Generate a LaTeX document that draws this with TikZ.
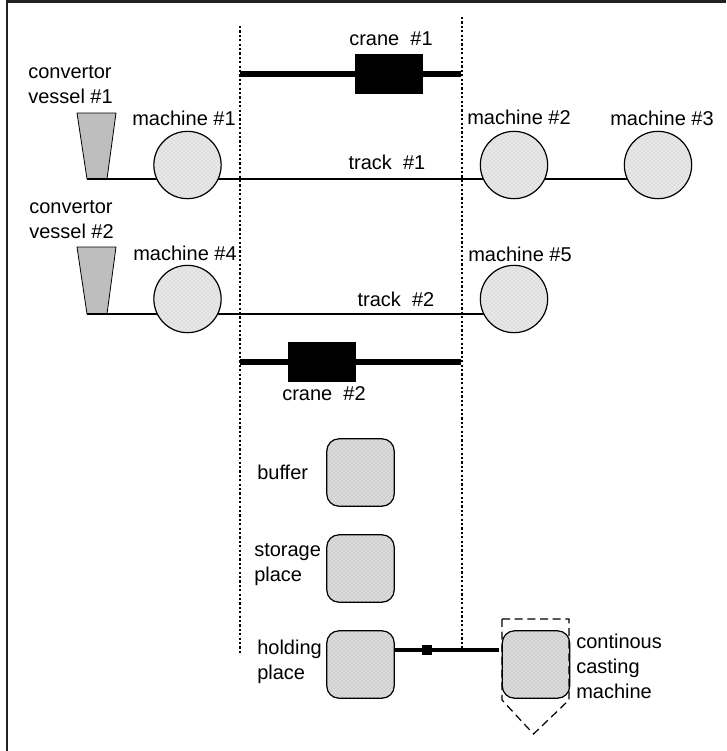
\documentclass[tikz,border=0pt]{standalone}
\usepackage{fontspec}
\setmainfont{Liberation Sans}
\usetikzlibrary{patterns}
\definecolor{framegray}{RGB}{34,34,34}
\definecolor{vesselgray}{RGB}{190,190,190}
\definecolor{machinegray}{RGB}{232,232,232}
\definecolor{placegray}{RGB}{220,220,220}
\begin{document}
\begin{tikzpicture}[
    x=0.75pt, y=-0.75pt,
    machine/.style={circle, draw, line width=0.9pt, preaction={fill=machinegray}, pattern=crosshatch dots, pattern color=gray!50, minimum size=50.5pt, inner sep=0pt},
    place/.style={rectangle, rounded corners=9pt, draw, line width=0.9pt, preaction={fill=placegray}, pattern=crosshatch dots, pattern color=gray!70, minimum size=50.5pt, inner sep=0pt},
    vessel/.style={draw, line width=0.6pt, fill=vesselgray},
    cranebox/.style={rectangle, fill=black, minimum width=51pt, minimum height=30pt, inner sep=0pt},
    label/.style={font=\fontsize{15}{18.75}\selectfont, align=left, inner sep=0pt},
    limit/.style={line width=2.2pt, dash pattern=on 1.7pt off 1.6pt},
    track/.style={line width=2.2pt},
    rail/.style={line width=5.2pt}
]
    \useasboundingbox (0,0) rectangle (726,751);
    % --- Frame ---
    \coordinate (framebottom) at (7,751);
    \coordinate (framecorner) at (7,1.5);
    \coordinate (frameright) at (726,1.5);
    \draw[framegray, line width=2.2pt] (framebottom) -- (framecorner) -- (frameright);

    % --- Convertor vessels ---
    \foreach \ytop/\ybot in {113/179, 247/314} {
        \draw[vessel] (77,\ytop) -- (116,\ytop) -- (107,\ybot) -- (87,\ybot) -- cycle;
    }
    \node[label, anchor=west] (vesselAtext) at (28,85) {convertor\\vessel \#1};
    \node[label, anchor=west] (vesselBtext) at (29,220) {convertor\\vessel \#2};

    % --- Tracks ---
    \coordinate (trackAstart) at (87,179);
    \coordinate (trackAend) at (658,179);
    \coordinate (trackBstart) at (87,314);
    \coordinate (trackBend) at (514,314);
    \draw[track] (trackAstart) -- (trackAend);
    \draw[track] (trackBstart) -- (trackBend);

    % --- Working area ---
    \coordinate (limitAtop) at (240,26);
    \coordinate (limitAbottom) at (240,653);
    \coordinate (limitBtop) at (462,17);
    \coordinate (limitBbottom) at (462,649);
    \draw[limit] (limitAtop) -- (limitAbottom);
    \draw[limit] (limitBtop) -- (limitBbottom);

    % --- Cranes ---
    \coordinate (railAleft) at (240,74);
    \coordinate (railAright) at (461,74);
    \coordinate (railBleft) at (240,362);
    \coordinate (railBright) at (461,362);
    \draw[rail] (railAleft) -- (railAright);
    \draw[rail] (railBleft) -- (railBright);
    \node[cranebox] (craneA) at (389,74) {};
    \node[cranebox] (craneB) at (322,362) {};
    \node[label] (craneAtext) at (391,39) {crane\ \ \#1};
    \node[label] (craneBtext) at (324,394) {crane\ \ \#2};

    % --- Machines ---
    \foreach \name/\x/\y/\tx/\ty/\num in {machineA/187.5/165/184/118/1, machineB/514/165/519/117/2,
        machineC/658/165/662/118/3, machineD/187.5/299/185/253/4, machineE/514/299/520/254/5} {
        \node[machine] (\name) at (\x,\y) {};
        \node[label] (\name text) at (\tx,\ty) {machine \#\num};
    }
    \node[label] (trackAtext) at (387,162) {track\ \ \#1};
    \node[label] (trackBtext) at (396,299) {track\ \ \#2};

    % --- Places ---
    \node[place] (buffer) at (360.5,472.5) {};
    \node[place] (storage) at (360.5,568.5) {};
    \node[place] (holding) at (360.5,664.5) {};
    \node[label, anchor=west] (buffertext) at (257,472) {buffer};
    \node[label, anchor=west] (storagetext) at (254,565) {storage\\place};
    \node[label, anchor=west] (holdingtext) at (257,662) {holding\\place};

    % --- Casting ---
    \coordinate (linkstart) at (394,650);
    \coordinate (linkend) at (499,650);
    \draw[line width=3.6pt] (linkstart) -- (linkend);
    \node[rectangle, fill=black, minimum size=8pt, inner sep=0pt] (linkstop) at (427,650) {};
    \node[place] (casting) at (536,664.5) {};
    \coordinate (dashA) at (502,619);
    \coordinate (dashB) at (569,619);
    \coordinate (dashC) at (569,700);
    \coordinate (dashD) at (533.5,734);
    \coordinate (dashE) at (502,700);
    \draw[line width=0.9pt, dash pattern=on 6pt off 3.5pt] (dashA) -- (dashB) -- (dashC) -- (dashD) -- (dashE) -- cycle;
    \node[label, anchor=west] (castingtext) at (576,666) {continous\\casting\\machine};
\end{tikzpicture}
\end{document}
